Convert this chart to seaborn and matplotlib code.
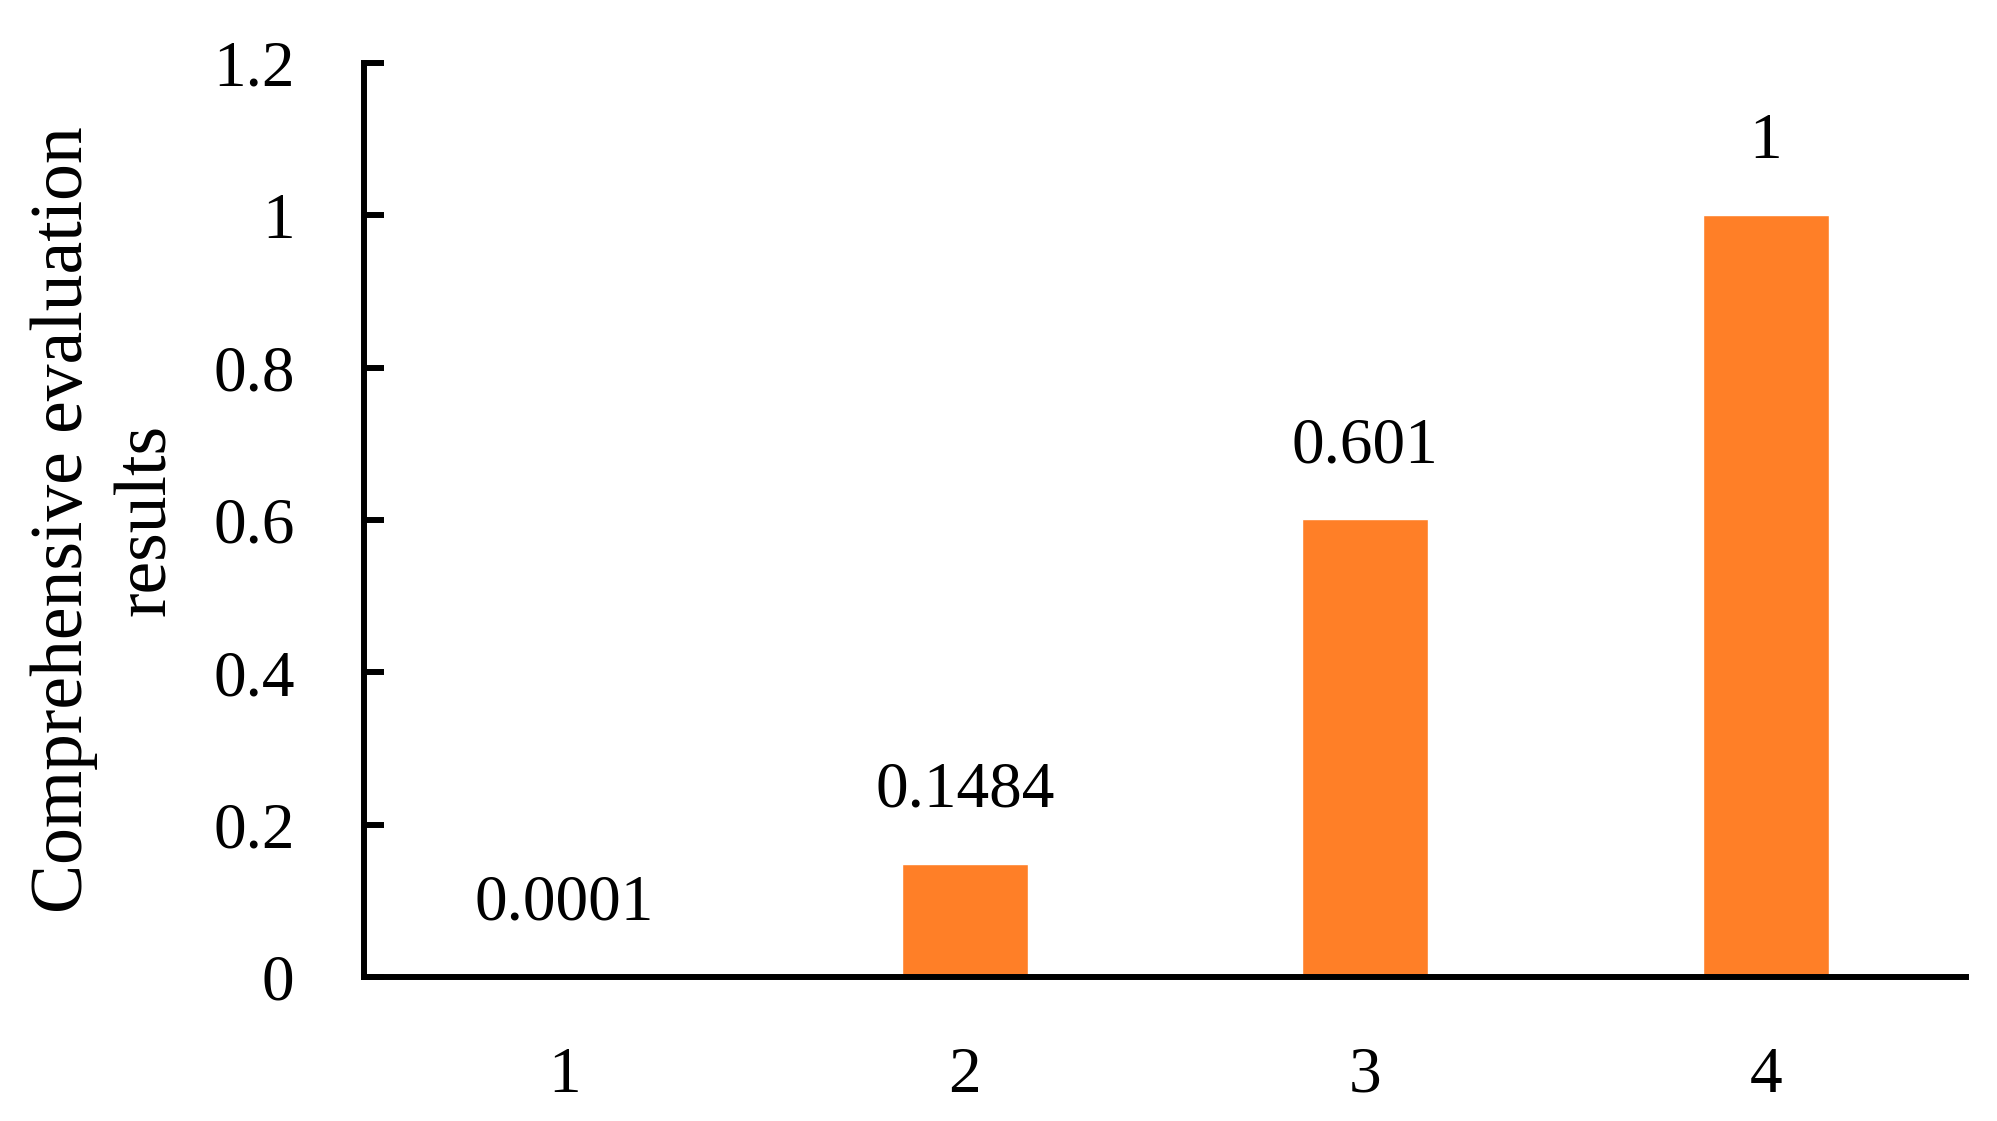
import numpy as np
import matplotlib
matplotlib.use('Agg')
import matplotlib.pyplot as plt
import seaborn as sns

sns.set_theme(style="white")
plt.rcParams['font.family'] = ['Liberation Serif', 'DejaVu Serif']
plt.rcParams['text.color'] = 'black'

# ---------- data ----------
categories = ['1', '2', '3', '4']
values = [0.0001, 0.1484, 0.601, 1.0]
value_labels = ['0.0001', '0.1484', '0.601', '1']
y_ticks = [0, 0.2, 0.4, 0.6, 0.8, 1.0, 1.2]
y_tick_labels = ['0', '0.2', '0.4', '0.6', '0.8', '1', '1.2']
BAR_COLOR = '#FF7F27'
FS = 47

fig, ax = plt.subplots(figsize=(19.97, 11.21), dpi=100)
fig.subplots_adjust(left=0.1823, right=0.9845, bottom=0.1285, top=0.9438)

sns.barplot(x=categories, y=values, color=BAR_COLOR, saturation=1,
            width=0.315, ax=ax)

ax.set_xlim(-0.5, 3.5)
ax.set_ylim(0, 1.2)
ax.set_yticks(y_ticks)
ax.set_yticklabels(y_tick_labels)

for container in ax.containers:
    ax.bar_label(container, labels=value_labels, padding=31, fontsize=FS,
                 color='black')

for side in ['top', 'right']:
    ax.spines[side].set_visible(False)
for side in ['left', 'bottom']:
    ax.spines[side].set_linewidth(4.3)
    ax.spines[side].set_color('black')

ax.tick_params(axis='y', direction='in', length=14.5, width=4.3,
               labelsize=FS, pad=50, colors='black', left=True)
ax.tick_params(axis='x', length=0, labelsize=FS, pad=50, colors='black')

ax.set_xlabel('')
ax.set_ylabel('Comprehensive evaluation\nresults', fontsize=53,
              linespacing=1.3, color='black')
ax.yaxis.set_label_coords(-0.114, 0.5)

fig.savefig('out.png', dpi=100, facecolor='white')
